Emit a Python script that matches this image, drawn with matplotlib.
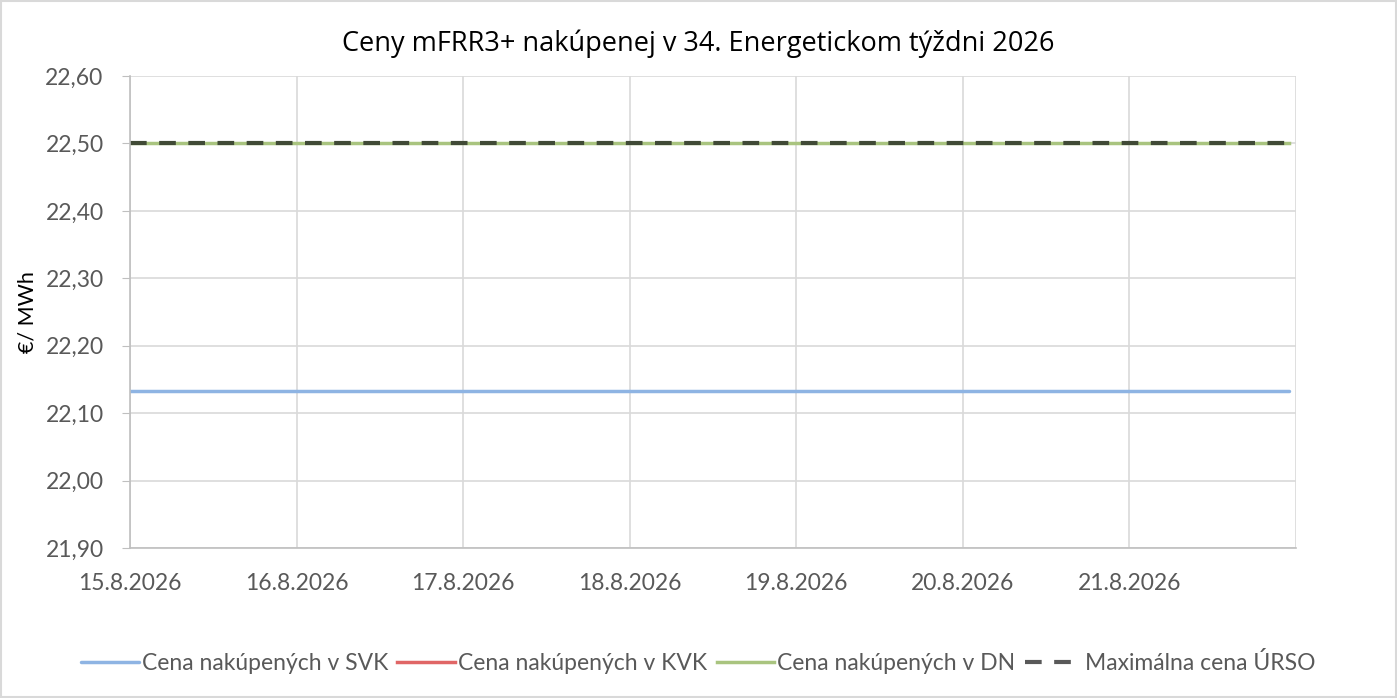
import matplotlib
matplotlib.use("Agg")
import matplotlib.pyplot as plt
import matplotlib.dates as mdates
import numpy as np
import pandas as pd
from matplotlib.ticker import FixedLocator, FuncFormatter

plt.rcParams['font.family'] = ['Lato', 'DejaVu Sans']

# Data (hourly, 15.8.2026 00:00 .. 21.8.2026 23:00)
times = pd.date_range("2026-08-15 00:00", periods=168, freq="h")
svk = [22.133] * 168
kvk = [np.nan] * 168
dn = [22.50] * 168
max_urso = [22.50] * 168

title = "Ceny mFRR3+ nakúpenej v 34. Energetickom týždni 2026"
ylabel = "€/ MWh"
legend_labels = ["Cena nakúpených v SVK", "Cena nakúpených v KVK",
                 "Cena nakúpených v DN", "Maximálna cena ÚRSO"]
yticks = [21.90, 22.00, 22.10, 22.20, 22.30, 22.40, 22.50, 22.60]
xtick_dates = pd.date_range("2026-08-15", periods=8, freq="D")

fig = plt.figure(figsize=(13.97, 6.98), dpi=100)
ax = fig.add_axes([130/1397, 1-548/698, (1296-130)/1397, (548-76)/698])

txt = "#595959"
ax.plot(times, svk, color="#8EB4E3", lw=2.5, label=legend_labels[0], solid_capstyle="round")
ax.plot(times, kvk, color="#E06666", lw=2.5, label=legend_labels[1])
ax.plot(times, dn, color="#A9C47F", lw=2.5, label=legend_labels[2])
ax.plot(times, max_urso, color="#404A36", lw=3, dashes=(4, 3), label=legend_labels[3])

ax.set_xlim(xtick_dates[0], xtick_dates[-1])
ax.set_ylim(21.90, 22.60)
ax.yaxis.set_major_locator(FixedLocator(yticks))
ax.yaxis.set_major_formatter(FuncFormatter(lambda v, p: f"{v:.2f}".replace(".", ",")))
ax.set_xticks(mdates.date2num(xtick_dates))
xl = [f"{d.day}.{d.month}.{d.year}" for d in xtick_dates]
xl[-1] = ""
ax.set_xticklabels(xl)

ax.grid(True, color="#D9D9D9", lw=1.2)
ax.set_axisbelow(True)
for s in ["top", "right"]:
    ax.spines[s].set_visible(False)
ax.spines["left"].set_color("#BFBFBF")
ax.spines["bottom"].set_color("#BFBFBF")
ax.spines["left"].set_linewidth(1.2)
ax.spines["bottom"].set_linewidth(1.2)
ax.tick_params(axis="both", colors=txt, labelsize=16.5, length=0)
ax.tick_params(axis="x", pad=18)
ax.tick_params(axis="y", length=6, color="#BFBFBF", direction="out", pad=13)
for lbl in ax.get_xticklabels() + ax.get_yticklabels():
    lbl.set_color(txt)

fig.text(28/1397, 1-312/698, ylabel, rotation=90, ha="center", va="center",
         fontsize=15.5, color="black")
fig.text(0.5, 1-44/698, title, ha="center", va="center", fontsize=19.5,
         color="black", family=['Open Sans', 'DejaVu Sans'])

leg = fig.legend(loc="center", bbox_to_anchor=(0.5, 1-663/698), ncol=4, frameon=False,
                 fontsize=16.5, handlelength=2.5, handletextpad=0.15, columnspacing=0.4)
for t in leg.get_texts():
    t.set_color(txt)
leg.get_lines()[3].set_color("#595959")

fig.patches.append(plt.Rectangle((0.001, 0.001), 0.998, 0.998, transform=fig.transFigure,
                                 fill=False, edgecolor="#D9D9D9", lw=1.5))
fig.savefig("out.png", dpi=100)
